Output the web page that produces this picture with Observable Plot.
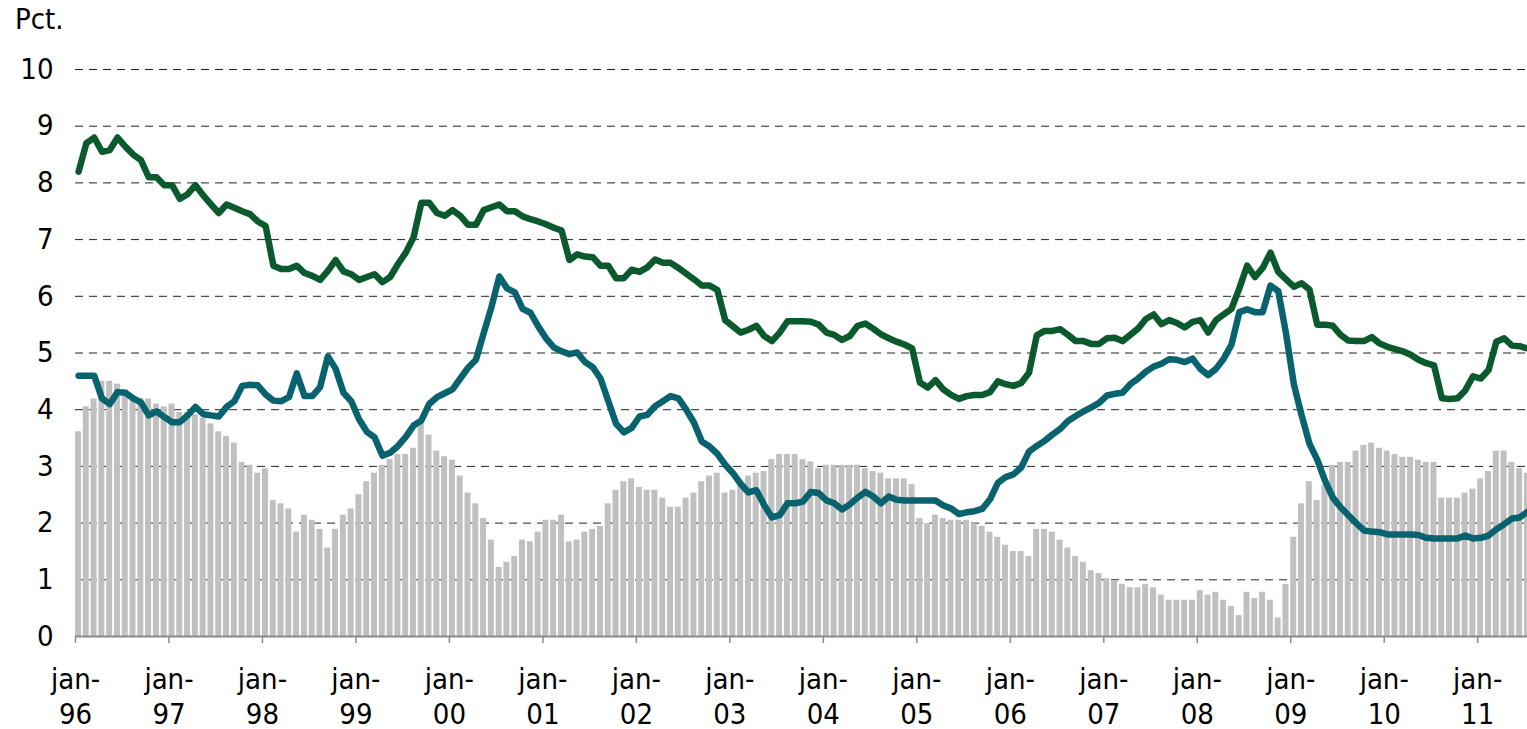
<!DOCTYPE html>
<html>
<head>
<meta charset="utf-8">
<script src="https://cdn.jsdelivr.net/npm/d3@7"></script>
<script src="https://cdn.jsdelivr.net/npm/@observablehq/plot@0.6"></script>
<style>
  body { margin: 0; background: #fff; }
  #wrap { width: 1527px; font-family: "DejaVu Sans Condensed", "DejaVu Sans", sans-serif; color: #000; }
  #unit { height: 40px; position: relative; }
  #unit span { position: absolute; left: 15px; top: 2px; font-size: 29px; line-height: 34px; }
  svg { display: block; overflow: visible; }
</style>
</head>
<body>
<div id="wrap">
  <div id="unit"><span>Pct.</span></div>
  <div id="chart"></div>
</div>
<script>
// Monthly observations, jan-96 ... jul-11 (index 0 = jan-96)
const startYear = 1996;

// Grey bars
const barValues = [
  3.61, 4.05, 4.19, 4.50, 4.50, 4.45, 4.35, 4.25, 4.20, 4.19, 4.10, 4.05,
  4.10, 3.95, 3.95, 3.91, 3.85, 3.75, 3.61, 3.53, 3.41, 3.07, 3.02, 2.88,
  2.96, 2.40, 2.34, 2.25, 1.84, 2.14, 2.05, 1.89, 1.56, 1.89, 2.14, 2.25,
  2.50, 2.73, 2.88, 3.02, 3.12, 3.21, 3.21, 3.32, 3.75, 3.55, 3.27, 3.17,
  3.11, 2.83, 2.53, 2.34, 2.08, 1.70, 1.22, 1.31, 1.41, 1.70, 1.67, 1.84,
  2.05, 2.05, 2.14, 1.67, 1.70, 1.84, 1.89, 1.94, 2.34, 2.58, 2.73, 2.78,
  2.63, 2.58, 2.58, 2.44, 2.28, 2.28, 2.44, 2.53, 2.73, 2.83, 2.88, 2.53,
  2.58, 2.73, 2.83, 2.88, 2.91, 3.12, 3.21, 3.21, 3.21, 3.12, 3.08, 2.96,
  3.02, 3.02, 3.02, 3.02, 3.02, 2.96, 2.91, 2.88, 2.78, 2.78, 2.78, 2.68,
  2.08, 1.99, 2.14, 2.08, 2.05, 2.05, 2.05, 1.99, 1.94, 1.84, 1.75, 1.61,
  1.50, 1.50, 1.41, 1.89, 1.89, 1.84, 1.70, 1.56, 1.41, 1.31, 1.16, 1.11,
  1.02, 0.97, 0.92, 0.86, 0.86, 0.92, 0.86, 0.73, 0.64, 0.64, 0.64, 0.64,
  0.81, 0.73, 0.78, 0.64, 0.53, 0.37, 0.78, 0.67, 0.78, 0.64, 0.33, 0.92,
  1.75, 2.34, 2.73, 2.40, 2.67, 3.02, 3.07, 3.07, 3.27, 3.37, 3.41, 3.32,
  3.27, 3.21, 3.16, 3.16, 3.11, 3.07, 3.07, 2.44, 2.44, 2.44, 2.53, 2.60,
  2.78, 2.91, 3.27, 3.27, 3.07, 2.96, 2.88
];

// Dark green line
const greenValues = [
  8.20, 8.70, 8.80, 8.55, 8.58, 8.80, 8.64, 8.50, 8.40, 8.10, 8.10, 7.96,
  7.96, 7.72, 7.80, 7.96, 7.78, 7.62, 7.47, 7.62, 7.56, 7.50, 7.45, 7.32,
  7.24, 6.54, 6.48, 6.48, 6.54, 6.41, 6.36, 6.29, 6.45, 6.64, 6.44, 6.39,
  6.29, 6.34, 6.39, 6.25, 6.34, 6.57, 6.77, 7.04, 7.65, 7.65, 7.47, 7.42,
  7.52, 7.42, 7.26, 7.26, 7.52, 7.57, 7.62, 7.50, 7.50, 7.41, 7.36, 7.32,
  7.27, 7.21, 7.16, 6.64, 6.74, 6.70, 6.69, 6.54, 6.54, 6.32, 6.32, 6.47,
  6.43, 6.51, 6.65, 6.59, 6.59, 6.50, 6.40, 6.30, 6.19, 6.19, 6.11, 5.58,
  5.47, 5.36, 5.41, 5.48, 5.30, 5.21, 5.36, 5.56, 5.56, 5.56, 5.55, 5.50,
  5.36, 5.32, 5.23, 5.30, 5.48, 5.52, 5.43, 5.33, 5.26, 5.20, 5.15, 5.08,
  4.48, 4.39, 4.52, 4.36, 4.26, 4.19, 4.24, 4.26, 4.26, 4.31, 4.50, 4.45,
  4.42, 4.47, 4.65, 5.31, 5.39, 5.39, 5.42, 5.32, 5.21, 5.21, 5.16, 5.16,
  5.26, 5.27, 5.21, 5.32, 5.43, 5.60, 5.68, 5.51, 5.58, 5.53, 5.45, 5.55,
  5.58, 5.36, 5.58, 5.68, 5.78, 6.14, 6.54, 6.34, 6.50, 6.77, 6.43, 6.30,
  6.17, 6.23, 6.12, 5.50, 5.50, 5.48, 5.32, 5.22, 5.21, 5.21, 5.28, 5.17,
  5.11, 5.07, 5.03, 4.97, 4.88, 4.82, 4.78, 4.20, 4.19, 4.20, 4.34, 4.59,
  4.55, 4.70, 5.20, 5.26, 5.13, 5.12, 5.08
];

// Teal line
const tealValues = [
  4.60, 4.60, 4.60, 4.20, 4.10, 4.31, 4.30, 4.20, 4.13, 3.90, 3.97, 3.87,
  3.78, 3.78, 3.90, 4.05, 3.92, 3.90, 3.88, 4.05, 4.15, 4.42, 4.44, 4.43,
  4.27, 4.16, 4.15, 4.22, 4.64, 4.24, 4.24, 4.40, 4.94, 4.72, 4.30, 4.15,
  3.83, 3.61, 3.51, 3.19, 3.24, 3.36, 3.52, 3.72, 3.81, 4.10, 4.22, 4.29,
  4.36, 4.55, 4.74, 4.88, 5.35, 5.81, 6.35, 6.14, 6.07, 5.78, 5.71, 5.47,
  5.26, 5.10, 5.03, 4.98, 5.01, 4.84, 4.75, 4.55, 4.15, 3.75, 3.60, 3.68,
  3.88, 3.91, 4.06, 4.15, 4.24, 4.20, 4.00, 3.77, 3.44, 3.35, 3.22, 3.03,
  2.88, 2.69, 2.54, 2.58, 2.32, 2.10, 2.14, 2.35, 2.35, 2.38, 2.55, 2.53,
  2.40, 2.35, 2.24, 2.33, 2.45, 2.55, 2.47, 2.35, 2.47, 2.41, 2.40, 2.40,
  2.40, 2.40, 2.40, 2.31, 2.26, 2.16, 2.19, 2.21, 2.25, 2.42, 2.71, 2.81,
  2.86, 2.98, 3.26, 3.36, 3.45, 3.56, 3.66, 3.80, 3.89, 3.97, 4.04, 4.12,
  4.25, 4.28, 4.30, 4.45, 4.55, 4.67, 4.76, 4.81, 4.89, 4.88, 4.84, 4.90,
  4.72, 4.61, 4.72, 4.90, 5.15, 5.72, 5.77, 5.72, 5.72, 6.19, 6.09, 5.34,
  4.45, 3.90, 3.40, 3.12, 2.75, 2.45, 2.28, 2.14, 2.00, 1.87, 1.85, 1.84,
  1.80, 1.80, 1.80, 1.80, 1.79, 1.74, 1.73, 1.73, 1.73, 1.73, 1.78, 1.73,
  1.74, 1.78, 1.89, 1.98, 2.08, 2.10, 2.20
];

// Axis ticks
const yTicks = [0, 1, 2, 3, 4, 5, 6, 7, 8, 9, 10];
const xTickYears = ["96","97","98","99","00","01","02","03","04","05","06","07","08","09","10","11"];
const xTickMonth = "jan-";

// Build tables
const bars = barValues.map((v, i) => ({i, v}));
const green = greenValues.map((v, i) => ({i, v}));
const teal = tealValues.map((v, i) => ({i, v}));
const xTicks = xTickYears.map((y, k) => k * 12);

const W = 1527, H = 689;
const mL = 75, mR = 0;
const monthPx = 7.79;
const xMax = (W - mL - mR) / monthPx;
const font = '"DejaVu Sans Condensed", "DejaVu Sans", sans-serif';

const chart = Plot.plot({
  width: W,
  height: H,
  marginLeft: mL,
  marginRight: mR,
  marginTop: 29,
  marginBottom: 93,
  x: {type: "linear", domain: [0, xMax]},
  y: {domain: [0, 10]},
  style: {fontFamily: font, fontSize: "29px", color: "#000", background: "#fff", overflow: "visible"},
  marks: [
    Plot.ruleY(yTicks.filter(d => d > 0), {stroke: "#222", strokeWidth: 1, strokeDasharray: "8,6"}),
    Plot.rectY(bars, {x1: "i", x2: d => d.i + 1, y: "v", fill: "#c0c0c0", insetLeft: 0, insetRight: 1.8, clip: true}),
    Plot.ruleY([0], {stroke: "#8a8a8a", strokeWidth: 2}),
    Plot.lineY(green, {x: d => d.i + 0.4, y: "v", stroke: "#0b5a2d", strokeWidth: 6.5, strokeLinejoin: "round", clip: true}),
    Plot.lineY(teal, {x: d => d.i + 0.4, y: "v", stroke: "#08636f", strokeWidth: 6.5, strokeLinejoin: "round", clip: true}),
    Plot.axisY({ticks: yTicks, tickSize: 0, tickPadding: 22, fontSize: 29, label: null, tickFormat: d => String(d)}),
    Plot.axisX({
      ticks: xTicks,
      tickFormat: d => xTickMonth + "\n" + xTickYears[Math.round(d / 12)],
      tickSize: 7, tickPadding: 21, fontSize: 29, lineHeight: 1.2,
      stroke: "#8a8a8a", strokeWidth: 1.5, label: null
    })
  ]
});
document.getElementById("chart").appendChild(chart);
</script>
</body>
</html>
